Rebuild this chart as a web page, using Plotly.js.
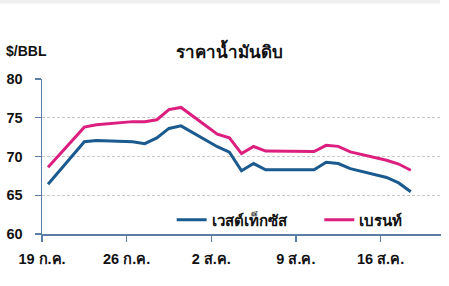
<!DOCTYPE html>
<html>
<head>
<meta charset="utf-8">
<script src="https://cdn.plot.ly/plotly-3.0.1.min.js"></script>
<style>
  html, body { margin: 0; padding: 0; background: #ffffff; }
  #chart { width: 449px; height: 286px; }
</style>
</head>
<body>
<div id="chart"></div>
<script>
// Trading dates (data points)
const dates = ['2021-07-19','2021-07-22','2021-07-23','2021-07-26','2021-07-27','2021-07-28','2021-07-29','2021-07-30',
               '2021-08-02','2021-08-03','2021-08-04','2021-08-05','2021-08-06','2021-08-10','2021-08-11','2021-08-12',
               '2021-08-13','2021-08-16','2021-08-17','2021-08-18'];
// West Texas (WTI), $/BBL
const wti   = [66.42, 71.91, 72.07, 71.91, 71.65, 72.39, 73.62, 73.95,
               71.26, 70.56, 68.15, 69.09, 68.28, 68.29, 69.25, 69.09,
               68.44, 67.29, 66.59, 65.46];
// Brent, $/BBL
const brent = [68.62, 73.79, 74.10, 74.50, 74.48, 74.74, 76.05, 76.33,
               72.89, 72.41, 70.38, 71.29, 70.70, 70.63, 71.44, 71.31,
               70.59, 69.51, 69.03, 68.23];
const seriesNames = ['เวสต์เท็กซัส', 'เบรนท์'];
const tickDates = ['2021-07-19','2021-07-26','2021-08-02','2021-08-09','2021-08-16'];
const tickLabels = ['19 ก.ค.','26 ก.ค.','2 ส.ค.','9 ส.ค.','16 ส.ค.'];
const yTicks = [60, 65, 70, 75, 80];

// points sit in the middle of their day (date axis, between tick marks)
const xs = dates.map(d => d + ' 12:00');

const FONT = 'Liberation Sans, Arial, Noto Sans, sans-serif';
const AXIS = '#5a7ea6';

const traces = [
  { x: xs, y: wti, name: seriesNames[0], type: 'scatter', mode: 'lines',
    line: { color: '#1a5a8e', width: 3 }, legend: 'legend' },
  { x: xs, y: brent, name: seriesNames[1], type: 'scatter', mode: 'lines',
    line: { color: '#dc1f7e', width: 3 }, legend: 'legend2' }
];

const legendFont = { family: FONT, size: 15, color: '#111111', weight: 'bold' };

const layout = {
  width: 449, height: 286,
  margin: { l: 42, r: 8, t: 79, b: 52, pad: 0 },
  paper_bgcolor: '#ffffff', plot_bgcolor: '#ffffff',
  font: { family: FONT, color: '#111111', size: 13, weight: 'bold' },
  title: {
    text: 'ราคาน้ำมันดิบ',
    font: { family: FONT, size: 17, color: '#111111', weight: 'bold' },
    xref: 'paper', x: 0.469, xanchor: 'center',
    yref: 'container', y: 1 - 52/286, yanchor: 'middle'
  },
  xaxis: {
    type: 'date',
    range: ['2021-07-19', '2021-08-21'],
    tickmode: 'array', tickvals: tickDates, ticktext: tickLabels,
    ticks: 'outside', ticklen: 6, tickwidth: 1.2, tickcolor: AXIS,
    showline: true, linecolor: AXIS, linewidth: 1.5,
    showgrid: false, zeroline: false,
    ticklabelstandoff: 5,
    tickfont: { family: FONT, size: 14.5, color: '#111111', weight: 'bold' }
  },
  yaxis: {
    range: [60, 80],
    tickmode: 'array', tickvals: yTicks,
    ticks: 'outside', ticklen: 6, tickwidth: 1.2, tickcolor: AXIS,
    showline: true, linecolor: AXIS, linewidth: 1.5,
    showgrid: true, gridcolor: '#c8c8c8', gridwidth: 1, griddash: '3px,2px',
    zeroline: false,
    ticklabelstandoff: 9,
    tickfont: { family: FONT, size: 14.5, color: '#111111', weight: 'bold' }
  },
  showlegend: true,
  legend: {
    orientation: 'h',
    x: 0.325, xanchor: 'left',
    y: 0.09, yanchor: 'middle',
    bgcolor: 'rgba(0,0,0,0)',
    itemwidth: 30,
    font: legendFont
  },
  legend2: {
    orientation: 'h',
    x: 0.695, xanchor: 'left',
    y: 0.09, yanchor: 'middle',
    bgcolor: 'rgba(0,0,0,0)',
    itemwidth: 30,
    font: legendFont
  },
  annotations: [
    { text: '$/BBL', xref: 'paper', yref: 'paper',
      x: -0.095, xanchor: 'left', y: (233.7-51)/154.4, yanchor: 'middle',
      showarrow: false,
      font: { family: FONT, size: 14, color: '#111111', weight: 'bold' } }
  ],
  shapes: [
    { type: 'rect', xref: 'paper', yref: 'paper',
      x0: -42/399, x1: 398/399, y0: 233.7/154.4, y1: (233.7-4)/154.4,
      fillcolor: '#efefef', line: { width: 0 }, layer: 'below' }
  ]
};

Plotly.newPlot('chart', traces, layout, { staticPlot: true, displayModeBar: false });
</script>
</body>
</html>
